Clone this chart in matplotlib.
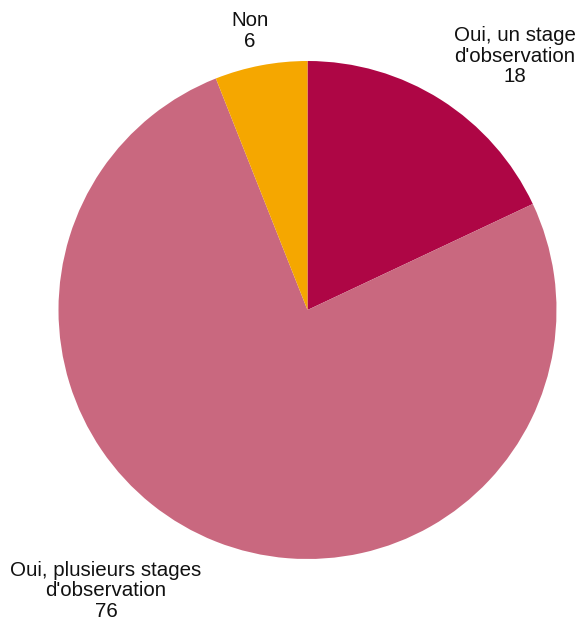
import matplotlib
matplotlib.use('Agg')
import matplotlib.pyplot as plt

# Data
labels = ["Oui, un stage\nd'observation", "Oui, plusieurs stages\nd'observation", "Non"]
values = [18, 76, 6]
colors = ['#AE0645', '#C9687F', '#F5A700']

# label anchor positions in pixels (x, y from top)
label_pos = [(515, 56), (106, 591), (250, 31)]

W, H = 579, 620
CX, CY, R = 307.5, 310, 249

plt.rcParams['font.family'] = ['Liberation Sans', 'DejaVu Sans']

fig = plt.figure(figsize=(W / 100, H / 100), dpi=100)
ax = fig.add_axes([(CX - R) / W, (H - CY - R) / H, 2 * R / W, 2 * R / H])
ax.pie(values, colors=colors, startangle=90, counterclock=False, radius=1,
       wedgeprops=dict(linewidth=0))
ax.set_xlim(-1, 1)
ax.set_ylim(-1, 1)
ax.set_aspect('equal')
ax.axis('off')

for lab, v, (px, py) in zip(labels, values, label_pos):
    fig.text(px / W, 1 - py / H, f'{lab}\n{v}', ha='center', va='center',
             fontsize=14.8, linespacing=1.1, color='#111111')

fig.savefig('out.png', dpi=100)
